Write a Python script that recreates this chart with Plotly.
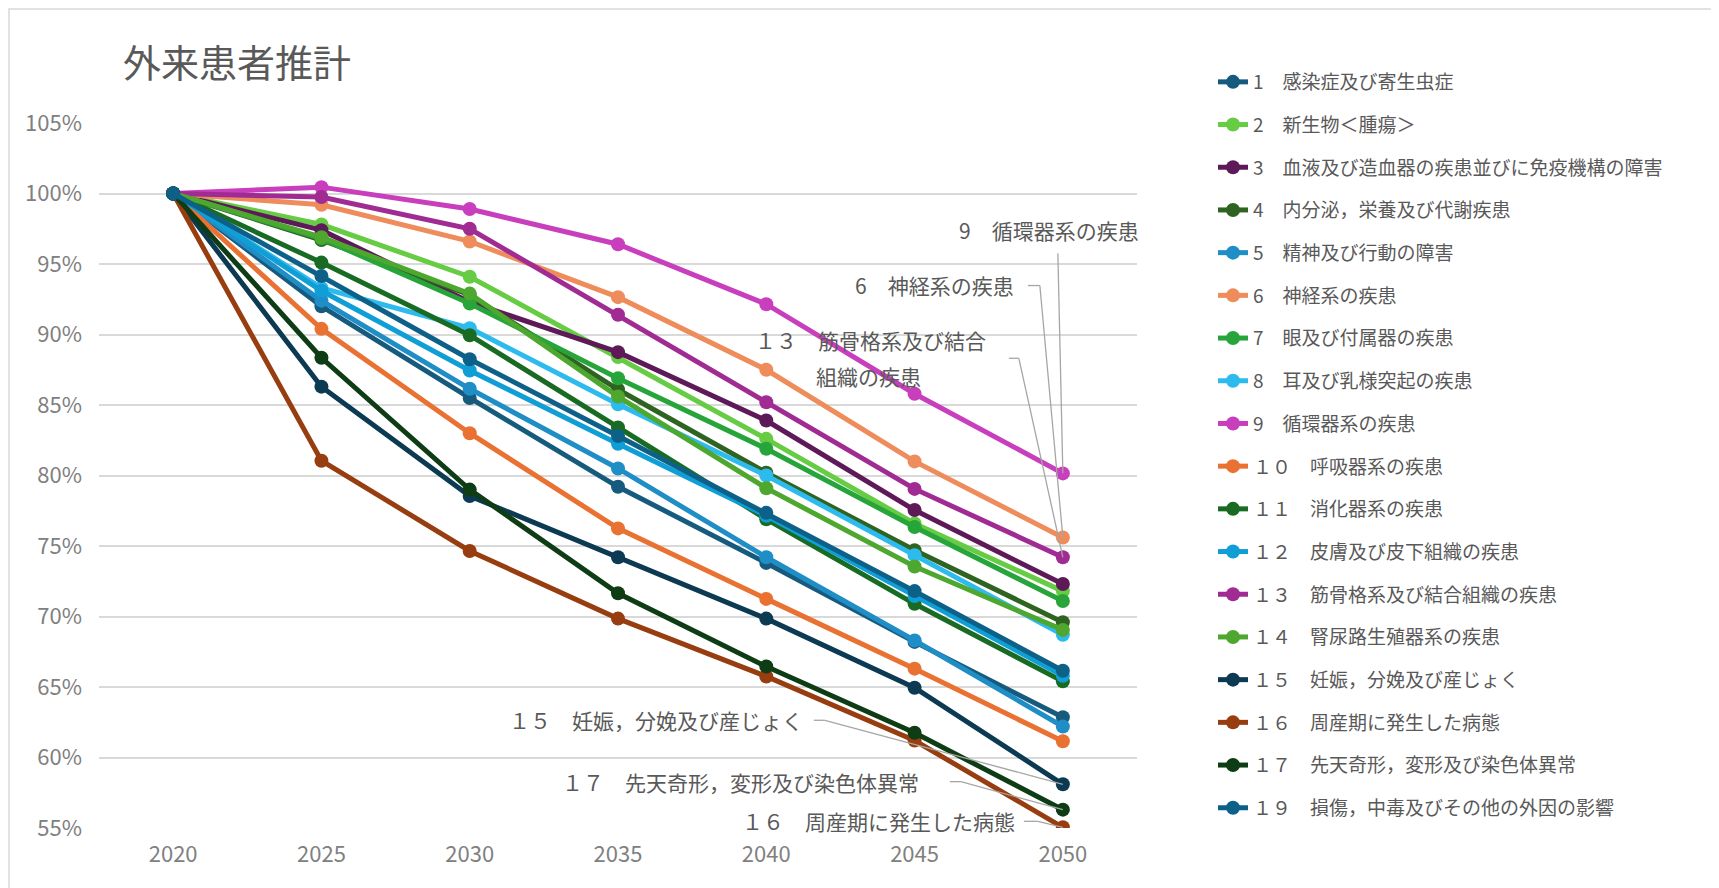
import plotly.graph_objects as go

years = ["2020", "2025", "2030", "2035", "2040", "2045", "2050"]

names = [
    "1　感染症及び寄生虫症",
    "2　新生物＜腫瘍＞",
    "3　血液及び造血器の疾患並びに免疫機構の障害",
    "4　内分泌，栄養及び代謝疾患",
    "5　精神及び行動の障害",
    "6　神経系の疾患",
    "7　眼及び付属器の疾患",
    "8　耳及び乳様突起の疾患",
    "9　循環器系の疾患",
    "１０　呼吸器系の疾患",
    "１１　消化器系の疾患",
    "１２　皮膚及び皮下組織の疾患",
    "１３　筋骨格系及び結合組織の疾患",
    "１４　腎尿路生殖器系の疾患",
    "１５　妊娠，分娩及び産じょく",
    "１６　周産期に発生した病態",
    "１７　先天奇形，変形及び染色体異常",
    "１９　損傷，中毒及びその他の外因の影響",
]

s01 = [100, 92.0, 85.5, 79.2, 73.8, 68.2, 62.85]
s02 = [100, 97.8, 94.1, 88.4, 82.6, 76.6, 71.8]
s03 = [100, 97.4, 92.3, 88.75, 83.9, 77.55, 72.3]
s04 = [100, 96.7, 92.8, 86.1, 80.2, 74.7, 69.6]
s05 = [100, 92.4, 86.15, 80.5, 74.2, 68.3, 62.2]
s06 = [100, 99.2, 96.6, 92.65, 87.5, 81.0, 75.6]
s07 = [100, 96.8, 92.2, 86.9, 81.9, 76.35, 71.1]
s08 = [100, 93.3, 90.45, 85.05, 80.0, 74.35, 68.7]
s09 = [100, 100.45, 98.9, 96.4, 92.15, 85.8, 80.15]
s10 = [100, 90.4, 83.0, 76.25, 71.25, 66.3, 61.15]
s11 = [100, 95.1, 89.95, 83.4, 76.9, 70.9, 65.4]
s12 = [100, 93.1, 87.45, 82.25, 77.15, 71.45, 65.8]
s13 = [100, 99.75, 97.5, 91.4, 85.2, 79.05, 74.2]
s14 = [100, 96.9, 92.9, 85.6, 79.1, 73.55, 69.05]
s15 = [100, 86.3, 78.55, 74.2, 69.85, 64.95, 58.1]
s16 = [100, 81.05, 74.65, 69.85, 65.75, 61.2, 55.05]
s17 = [100, 88.35, 79.0, 71.65, 66.45, 61.75, 56.3]
s19 = [100, 94.15, 88.25, 82.8, 77.35, 71.8, 66.15]

series = [s01, s02, s03, s04, s05, s06, s07, s08, s09,
          s10, s11, s12, s13, s14, s15, s16, s17, s19]

colors = ["#165B7E", "#66CC44", "#5E1A58", "#2F6321", "#1F8EC6", "#EE8C5C",
          "#27A53A", "#2DBBEE", "#C83EBD", "#E97132", "#196B24", "#0F9ED5",
          "#A02B93", "#4EA72E", "#0C3A52", "#973D0F", "#0E3C15", "#0D6189"]

FONT = "Noto Sans CJK JP"
GRAY = "#595959"

# geometry (the page body has an 8px margin, so the figure is 8px smaller)
W, H = 1711, 880
ML, MR, MT, MB = 91, 582, 115, 60
PW = W - ML - MR
PH = H - MT - MB
Y0, Y1 = 0.55, 1.05
PX_PER_CAT = PW / len(years)
PX_PER_Y = PH / (Y1 - Y0)

fig = go.Figure()
for i, (nm, vals, col) in enumerate(zip(names, series, colors)):
    fig.add_trace(go.Scatter(
        x=years, y=[v / 100 for v in vals], name=nm,
        mode="lines+markers",
        line=dict(color=col, width=5),
        marker=dict(color=col, size=14),
        legendgroup=f"g{i}",
    ))

# data labels with leader lines:
# (series index, [(text line, offset px)], stub start px, stub end px)
labels = [
    (8, [("9　循環器系の疾患", (-14, -243))], None, (-5, -220)),
    (5, [("6　神経系の疾患", (-128, -253))], (-35, -252), (-23, -252)),
    (12, [("１３　筋骨格系及び結合", (-192, -217)), ("組織の疾患", (-194, -181))],
     (-54, -199), (-44, -199)),
    (14, [("１５　妊娠，分娩及び産じょく", (-407, -64))], (-249, -64), (-238, -64)),
    (16, [("１７　先天奇形，変形及び染色体異常", (-322, -28))], (-113, -28), (-102, -28)),
    (15, [("１６　周産期に発生した病態", (-184, -6))], (-39, -6), (-25, -6)),
]
xi = len(years) - 1


def to_data(off, yv):
    return xi + off[0] / PX_PER_CAT, yv - off[1] / PX_PER_Y


LEADER = dict(color="#A6A6A6", width=1.3)
for idx, lines, sstart, send in labels:
    yv = series[idx][-1] / 100
    for txt, toff in lines:
        tx, ty = to_data(toff, yv)
        fig.add_annotation(x=tx, y=ty, xref="x", yref="y", text=txt, showarrow=False,
                           align="center", xanchor="center", yanchor="middle",
                           font=dict(family=FONT, size=21, color=GRAY))
    ex, ey = to_data(send, yv)
    fig.add_shape(type="line", xref="x", yref="y", x0=ex, y0=ey, x1=xi, y1=yv,
                  line=LEADER, layer="above")
    if sstart is not None:
        sx, sy = to_data(sstart, yv)
        fig.add_shape(type="line", xref="x", yref="y", x0=sx, y0=sy, x1=ex, y1=ey,
                      line=LEADER, layer="above")

# light chart border (top/left visible)
fig.add_shape(type="rect", xref="paper", yref="paper",
              x0=-(ML - 1) / PW, x1=1.6, y0=-0.2, y1=(PH + MT - 1) / PH,
              line=dict(color="#D9D9D9", width=1.5), fillcolor="rgba(0,0,0,0)", layer="below")

fig.update_layout(
    width=W, height=H,
    margin=dict(l=ML, r=MR, t=MT, b=MB),
    paper_bgcolor="white", plot_bgcolor="white",
    font=dict(family=FONT, color=GRAY),
    title=dict(text="外来患者推計", x=(115 - ML) / PW, xref="paper", xanchor="left",
               y=1 - 56 / H, yref="container", yanchor="middle",
               font=dict(family=FONT, size=38, color=GRAY)),
    showlegend=True,
    legend=dict(x=(1205 - ML) / PW, xanchor="left", y=1 + (MT - 55) / PH, yanchor="top",
                font=dict(family=FONT, size=19, color=GRAY), maxheight=870,
                tracegroupgap=15, traceorder="grouped", bgcolor="rgba(0,0,0,0)"),
    xaxis=dict(type="category", range=[-0.5, 6.5], showgrid=False, zeroline=False,
               showline=False, ticks="", ticklabelstandoff=11,
               tickfont=dict(family=FONT, size=22, color="#808080")),
    yaxis=dict(range=[Y0, Y1], dtick=0.05, tick0=0.55, tickformat=".0%",
               showgrid=True, gridcolor="#D9D9D9", gridwidth=1.5, zeroline=False,
               showline=False, ticks="", ticklabelstandoff=16,
               tickfont=dict(family=FONT, size=22, color="#808080")),
)

fig.write_html("out.html")
